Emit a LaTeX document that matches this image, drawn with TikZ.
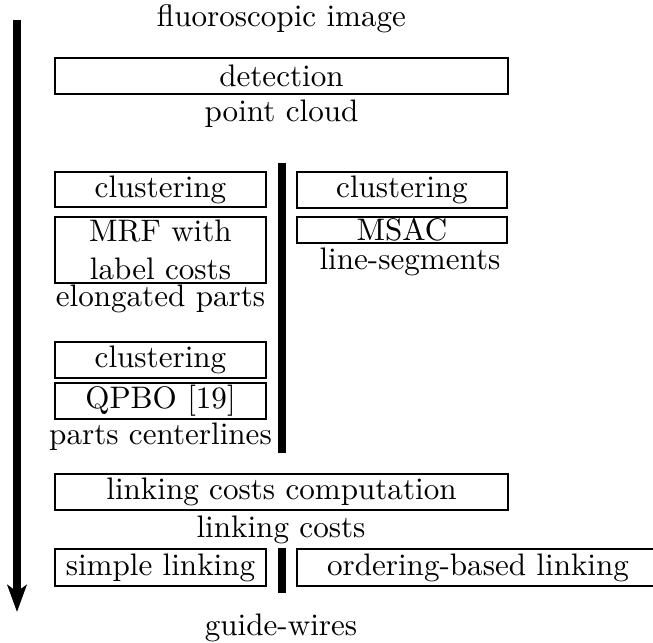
\documentclass[tikz,border=0pt]{standalone}
\usepackage{tikz}
\usetikzlibrary{positioning, arrows.meta}
\tikzset{
    stage/.style={draw, line width=0.6pt, inner sep=0pt, minimum height=11.5pt}, % processing steps
    wide/.style={stage, minimum width=145.6pt}, % steps over the whole width
    half/.style={stage, minimum width=67.8pt}, % steps of one branch
    data/.style={inner sep=0pt}, % intermediate results
    bar/.style={line width=2.5pt}, % separates alternative branches
    flow/.style={line width=2.4pt, -{Stealth[length=8.7pt, width=6.2pt, inset=2.2pt]}}, % time axis
}
\begin{document}
\begin{tikzpicture}[x=0.3215pt, y=-0.3215pt]
    \useasboundingbox (0,0) rectangle (653,643);

    % time axis
    \coordinate (start) at (17,20);
    \coordinate (end) at (17,612);
    \draw[flow] (start) -- (end);

    \node[data] (image) at (281.5,19) {fluoroscopic image};
    \node[wide] (detect) at (281.5,76) {detection};
    \node[data] (cloud) at (281.5,114) {point cloud};

    % left branch
    \node[half] (clusterA) at (160.5,189.5) {clustering};
    \node[half, minimum height=21.2pt, align=center] (mrf) at (160.5,250) {MRF with\\label costs};
    \node[data] (parts) at (160.5,299) {elongated parts};
    \node[half] (clusterB) at (160.5,360) {clustering};
    \node[half] (qpbo) at (160.5,401) {QPBO [19]};
    \node[data] (centre) at (160.5,437) {parts centerlines};

    % right branch
    \node[half, minimum width=67.5pt] (clusterC) at (402,190) {clustering};
    \node[half, minimum width=67.5pt, minimum height=8.4pt] (msac) at (402,230) {MSAC};
    \node[data] (segs) at (410,262) {line-segments};

    \coordinate (splitA) at (282,163);
    \coordinate (splitB) at (282,453);
    \draw[bar] (splitA) -- (splitB);

    \node[wide] (linkcost) at (281.5,492) {linking costs computation};
    \node[data] (costs) at (281,530) {linking costs};
    \node[half, minimum height=11.9pt] (simple) at (160.5,567.5) {simple linking};
    \node[stage, minimum width=116.4pt, minimum height=11.9pt] (order) at (478,567.5) {ordering-based linking};

    \coordinate (splitC) at (282,548);
    \coordinate (splitD) at (282,593);
    \draw[bar] (splitC) -- (splitD);

    \node[data] (wires) at (281,628) {guide-wires};
\end{tikzpicture}
\end{document}
